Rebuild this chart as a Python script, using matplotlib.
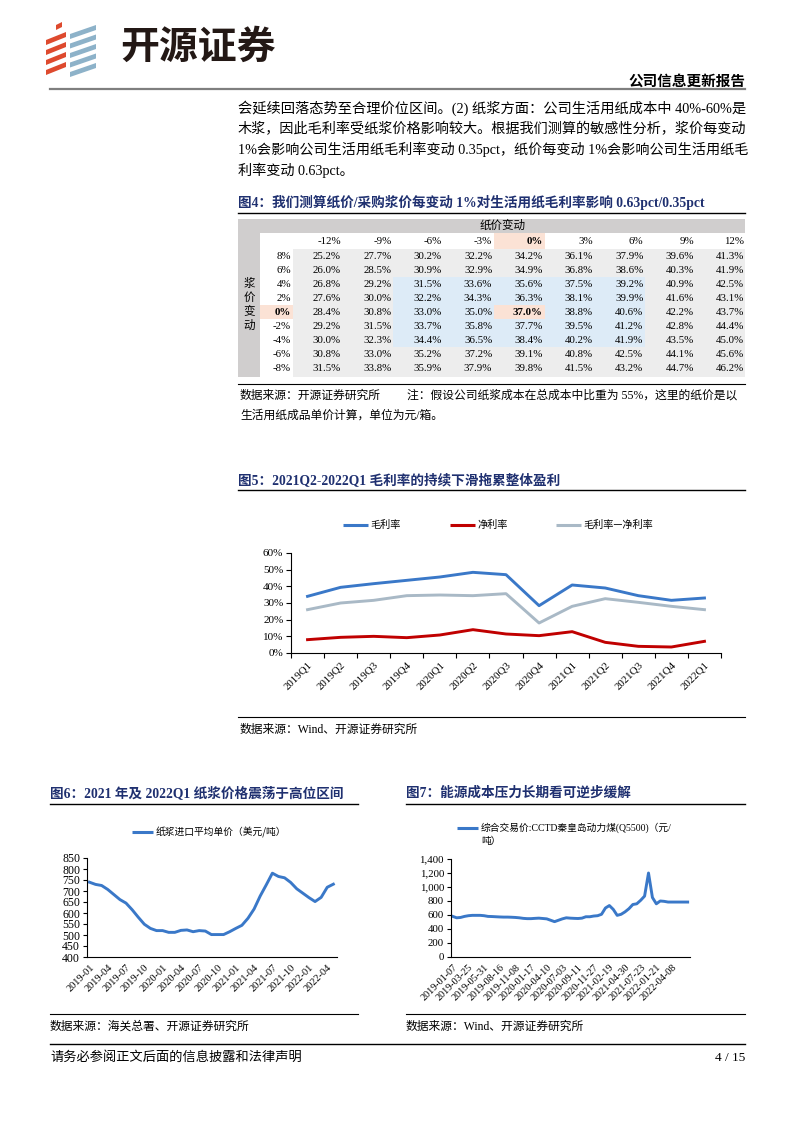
import numpy as np
import matplotlib
matplotlib.use('Agg')
import matplotlib.pyplot as plt
from matplotlib.patches import Rectangle, Polygon

W, H = 793, 1122
SERIF = ['Liberation Serif', 'Noto Sans CJK SC']
CJK = ['Noto Sans CJK SC', 'Liberation Serif']
plt.rcParams['font.family'] = SERIF
plt.rcParams['axes.unicode_minus'] = False

# ---------------- data ----------------
paper_chg = ['-12%', '-9%', '-6%', '-3%', '0%', '3%', '6%', '9%', '12%']
pulp_chg = ['8%', '6%', '4%', '2%', '0%', '-2%', '-4%', '-6%', '-8%']
margin_table = [
    [25.2, 27.7, 30.2, 32.2, 34.2, 36.1, 37.9, 39.6, 41.3],
    [26.0, 28.5, 30.9, 32.9, 34.9, 36.8, 38.6, 40.3, 41.9],
    [26.8, 29.2, 31.5, 33.6, 35.6, 37.5, 39.2, 40.9, 42.5],
    [27.6, 30.0, 32.2, 34.3, 36.3, 38.1, 39.9, 41.6, 43.1],
    [28.4, 30.8, 33.0, 35.0, 37.0, 38.8, 40.6, 42.2, 43.7],
    [29.2, 31.5, 33.7, 35.8, 37.7, 39.5, 41.2, 42.8, 44.4],
    [30.0, 32.3, 34.4, 36.5, 38.4, 40.2, 41.9, 43.5, 45.0],
    [30.8, 33.0, 35.2, 37.2, 39.1, 40.8, 42.5, 44.1, 45.6],
    [31.5, 33.8, 35.9, 37.9, 39.8, 41.5, 43.2, 44.7, 46.2],
]

quarters = ['2019Q1', '2019Q2', '2019Q3', '2019Q4', '2020Q1', '2020Q2', '2020Q3',
            '2020Q4', '2021Q1', '2021Q2', '2021Q3', '2021Q4', '2022Q1']
gross_margin = [34.0, 39.4, 41.6, 43.6, 45.6, 48.4, 47.0, 28.4, 40.8, 39.0, 34.4, 31.6, 33.0]
net_margin = [8.0, 9.4, 10.0, 9.2, 10.8, 14.0, 11.4, 10.4, 12.8, 6.4, 4.0, 3.6, 7.0]
gross_minus_net = [26.0, 30.0, 31.6, 34.4, 34.8, 34.4, 35.6, 18.0, 28.0, 32.6, 30.4, 28.0, 26.0]

pulp_tick_labels = ['2019-01', '2019-04', '2019-07', '2019-10', '2020-01', '2020-04', '2020-07',
                    '2020-10', '2021-01', '2021-04', '2021-07', '2021-10', '2022-01', '2022-04']
pulp_price = [740, 730, 725, 707, 684, 661, 645, 615, 581, 549,
              530, 520, 520, 512, 512, 521, 523, 515, 520, 518,
              502, 502, 502, 515, 530, 544, 576, 618, 677, 728,
              781, 766, 760, 739, 710, 690, 670, 652, 671, 717, 731]

coal_tick_labels = ['2019-01-07', '2019-03-25', '2019-05-31', '2019-08-16', '2019-11-08',
                    '2020-01-17', '2020-04-10', '2020-07-03', '2020-09-11', '2020-11-27',
                    '2021-02-19', '2021-04-30', '2021-07-23', '2022-01-21', '2022-04-08']
coal_price = [580, 560, 565, 580, 590, 595, 595, 595, 590, 580,
              578, 575, 572, 570, 570, 568, 565, 560, 552, 548,
              548, 552, 555, 550, 545, 525, 505, 525, 545, 560,
              555, 552, 550, 555, 575, 575, 585, 590, 610, 700,
              735, 680, 595, 610, 645, 690, 750, 760, 810, 870,
              1200, 850, 760, 800, 795, 785, 785, 785, 785, 785, 785]

BLUE = '#3A78C8'
RED = '#C00000'
GREYBLUE = '#A9B9C6'
NAVY = '#1F3070'


def rect(l, t, r, b):
    return [l / W, 1 - b / H, (r - l) / W, (b - t) / H]


fig = plt.figure(figsize=(W / 100, H / 100), dpi=100)
renderer = fig.canvas.get_renderer()
pg = fig.add_axes([0, 0, 1, 1])
pg.set_xlim(0, W)
pg.set_ylim(H, 0)
pg.axis('off')

# ---------------- header ----------------
for k in range(4):
    y = 33 + k * 10
    pg.add_patch(Polygon([(46, y + 7), (66, y - 1), (66, y + 4), (46, y + 12)],
                         closed=True, color='#DE4A2E', lw=0))
pg.add_patch(Polygon([(56, 25), (62, 22), (62, 27), (56, 30)], closed=True, color='#DE4A2E', lw=0))
for k in range(5):
    y = 27 + k * 9.5
    pg.add_patch(Polygon([(70, y + 7), (96, y - 2), (96, y + 3), (70, y + 12)],
                         closed=True, color='#8DB2C9', lw=0))
pg.text(120, 47, '开源证券', fontsize=28, fontweight='bold', family=CJK,
        color='#231815', va='center', ha='left')
pg.text(745, 81, '公司信息更新报告', fontsize=10.5, fontweight='bold', family=CJK,
        va='center', ha='right')
pg.plot([50, 745], [89, 89], color='#7F7F7F', lw=1.6)

body = ['会延续回落态势至合理价位区间。(2) 纸浆方面：公司生活用纸成本中 40%-60%是',
        '木浆，因此毛利率受纸浆价格影响较大。根据我们测算的敏感性分析，浆价每变动',
        '1%会影响公司生活用纸毛利率变动 0.35pct，纸价每变动 1%会影响公司生活用纸毛',
        '利率变动 0.63pct。']
for i, s in enumerate(body):
    t = pg.text(238, 108 + i * 20.7, s, fontsize=10.2, va='center', ha='left')
    if i < len(body) - 1:
        wpx = t.get_window_extent(renderer).width
        t.set_fontsize(10.2 * 507.0 / wpx)

# ---------------- figure 4 table ----------------
pg.text(238, 202, '图4：我们测算纸价/采购浆价每变动 1%对生活用纸毛利率影响 0.63pct/0.35pct',
        fontsize=9.8, fontweight='bold', color=NAVY, va='center', ha='left')
pg.plot([238, 745], [213, 213], color='black', lw=1.0)

HDR = '#D0CECE'
pg.add_patch(Rectangle((238, 219), 507, 14, color=HDR, lw=0))
pg.add_patch(Rectangle((238, 219), 22, 158, color=HDR, lw=0))
pg.add_patch(Rectangle((293, 249), 452, 128, color='#EDEDED', lw=0))
col_right = [341 + 50.4 * j for j in range(9)]
row_y = [256 + 14 * i for i in range(9)]
pg.add_patch(Rectangle((col_right[2] - 49, row_y[2] - 7), col_right[6] - col_right[2] + 51, 14 * 5,
                       color='#DDEBF7', lw=0))
pg.add_patch(Rectangle((col_right[4] - 49, 233), 51, 16, color='#FBE2D5', lw=0))
pg.add_patch(Rectangle((260, row_y[4] - 7), 33, 14, color='#FBE2D5', lw=0))
pg.add_patch(Rectangle((col_right[4] - 49, row_y[4] - 7), 51, 14, color='#FBE2D5', lw=0))
pg.text(503, 226, '纸价变动', fontsize=8.3, va='center', ha='center')
for k, ch in enumerate('浆价变动'):
    pg.text(249, row_y[2] + 14 * k, ch, fontsize=8.3, va='center', ha='center')
for j, lab in enumerate(paper_chg):
    pg.text(col_right[j], 241, lab, fontsize=7.8, va='center', ha='right',
            fontweight='bold' if lab == '0%' else 'normal')
for i, lab in enumerate(pulp_chg):
    pg.text(291, row_y[i], lab, fontsize=7.8, va='center', ha='right',
            fontweight='bold' if lab == '0%' else 'normal')
    for j in range(9):
        bold = (pulp_chg[i] == '0%' and paper_chg[j] == '0%')
        pg.text(col_right[j], row_y[i], f'{margin_table[i][j]:.1f}%', fontsize=7.8,
                va='center', ha='right', fontweight='bold' if bold else 'normal')

pg.plot([238, 745], [384, 384], color='black', lw=0.8)
pg.text(240, 396, '数据来源：开源证券研究所', fontsize=8.5, va='center', ha='left')
pg.text(407, 396, '注：假设公司纸浆成本在总成本中比重为 55%，这里的纸价是以',
        fontsize=8.5, va='center', ha='left')
pg.text(240, 416, '生活用纸成品单价计算，单位为元/箱。', fontsize=8.5, va='center', ha='left')

# ---------------- figure 5 ----------------
pg.text(238, 480, '图5：2021Q2-2022Q1 毛利率的持续下滑拖累整体盈利',
        fontsize=9.8, fontweight='bold', color=NAVY, va='center', ha='left')
pg.plot([238, 745], [490, 490], color='black', lw=1.0)

for (x0, col, lab) in [(343, BLUE, '毛利率'), (450, RED, '净利率'), (556, GREYBLUE, '毛利率—净利率')]:
    pg.plot([x0, x0 + 25], [525, 525], color=col, lw=2.2, solid_capstyle='butt')
    pg.text(x0 + 27, 525, lab, fontsize=7.3, va='center', ha='left', family=CJK)

ax5 = fig.add_axes(rect(291, 553, 721, 653))
ax5.set_facecolor('none')
xq = np.arange(len(quarters))
ax5.plot(xq, gross_margin, color=BLUE, lw=2.1)
ax5.plot(xq, net_margin, color=RED, lw=2.1)
ax5.plot(xq, gross_minus_net, color=GREYBLUE, lw=2.1)
ax5.set_xlim(-0.5, len(quarters) - 0.5)
ax5.set_ylim(0, 60)
ax5.set_yticks(range(0, 61, 10))
ax5.set_yticklabels([f'{v}%' for v in range(0, 61, 10)], fontsize=8)
ax5.set_xticks(xq)
ax5.set_xticklabels(quarters, rotation=45, ha='right', rotation_mode='anchor', fontsize=7.8)
ax5.set_xticks(np.arange(-0.5, len(quarters), 1), minor=True)
ax5.tick_params(axis='x', which='major', length=0, pad=5)
ax5.tick_params(axis='x', which='minor', length=3.5, width=0.8, direction='out')
ax5.tick_params(axis='y', length=3.5, width=0.8, direction='out', pad=2)
for s in ['top', 'right']:
    ax5.spines[s].set_visible(False)
for s in ['left', 'bottom']:
    ax5.spines[s].set_linewidth(0.8)

pg.plot([238, 745], [717, 717], color='black', lw=0.8)
pg.text(240, 730, '数据来源：Wind、开源证券研究所', fontsize=8.5, va='center', ha='left')

# ---------------- figure 6 ----------------
pg.text(50, 793, '图6：2021 年及 2022Q1 纸浆价格震荡于高位区间',
        fontsize=9.8, fontweight='bold', color=NAVY, va='center', ha='left')
pg.plot([50, 358], [804, 804], color='black', lw=1.0)
pg.plot([132, 153], [832, 832], color=BLUE, lw=2.2, solid_capstyle='butt')
pg.text(156, 832, '纸浆进口平均单价（美元/吨）', fontsize=7.0, va='center', ha='left', family=CJK)

ax6 = fig.add_axes(rect(87, 858, 337, 957))
ax6.set_facecolor('none')
xp = np.arange(len(pulp_price))
ax6.plot(xp, pulp_price, color=BLUE, lw=2.1)
ax6.set_xlim(-0.4, 40.6)
ax6.set_ylim(400, 850)
ax6.set_yticks(range(400, 851, 50))
ax6.set_yticklabels([str(v) for v in range(400, 851, 50)], fontsize=8.5)
ax6.set_xticks(xp[::3][:len(pulp_tick_labels)])
ax6.set_xticklabels(pulp_tick_labels, rotation=45, ha='right', rotation_mode='anchor', fontsize=7.5)
ax6.tick_params(axis='x', length=0, pad=4)
ax6.tick_params(axis='y', length=3, width=0.8, direction='out', pad=2)
for s in ['top', 'right']:
    ax6.spines[s].set_visible(False)
for s in ['left', 'bottom']:
    ax6.spines[s].set_linewidth(0.8)

pg.plot([50, 358], [1014, 1014], color='black', lw=0.8)
pg.text(50, 1027, '数据来源：海关总署、开源证券研究所', fontsize=8.5, va='center', ha='left')

# ---------------- figure 7 ----------------
pg.text(406, 793, '图7：能源成本压力长期看可逆步缓解',
        fontsize=9.8, fontweight='bold', color=NAVY, va='center', ha='left')
pg.plot([406, 745], [804, 804], color='black', lw=1.0)
pg.plot([457, 478], [828, 828], color=BLUE, lw=2.2, solid_capstyle='butt')
pg.text(481, 828, '综合交易价:CCTD秦皇岛动力煤(Q5500)（元/', fontsize=7.0, va='center', ha='left')
pg.text(481, 841, '吨）', fontsize=7.0, va='center', ha='left', family=CJK)

ax7 = fig.add_axes(rect(451, 859, 690, 957))
ax7.set_facecolor('none')
xc = np.arange(len(coal_price))
ax7.plot(xc, coal_price, color=BLUE, lw=2.1)
ax7.set_xlim(-0.45, 60.6)
ax7.set_ylim(0, 1400)
ax7.set_yticks(range(0, 1401, 200))
ax7.set_yticklabels([f'{v:,}' for v in range(0, 1401, 200)], fontsize=7.8)
ax7.set_xticks(xc[::4][:len(coal_tick_labels)])
ax7.set_xticklabels(coal_tick_labels, rotation=45, ha='right', rotation_mode='anchor', fontsize=7.3)
ax7.tick_params(axis='x', length=0, pad=4)
ax7.tick_params(axis='y', length=3, width=0.8, direction='out', pad=2)
for s in ['top', 'right']:
    ax7.spines[s].set_visible(False)
for s in ['left', 'bottom']:
    ax7.spines[s].set_linewidth(0.8)

pg.plot([406, 745], [1014, 1014], color='black', lw=0.8)
pg.text(406, 1027, '数据来源：Wind、开源证券研究所', fontsize=8.5, va='center', ha='left')

# ---------------- footer ----------------
pg.plot([50, 745], [1044, 1044], color='black', lw=1.0)
pg.text(50, 1058, '请务必参阅正文后面的信息披露和法律声明', fontsize=9.5, va='center', ha='left')
pg.text(745, 1058, '4 / 15', fontsize=9.5, va='center', ha='right')

fig.savefig('out.png', dpi=100)
